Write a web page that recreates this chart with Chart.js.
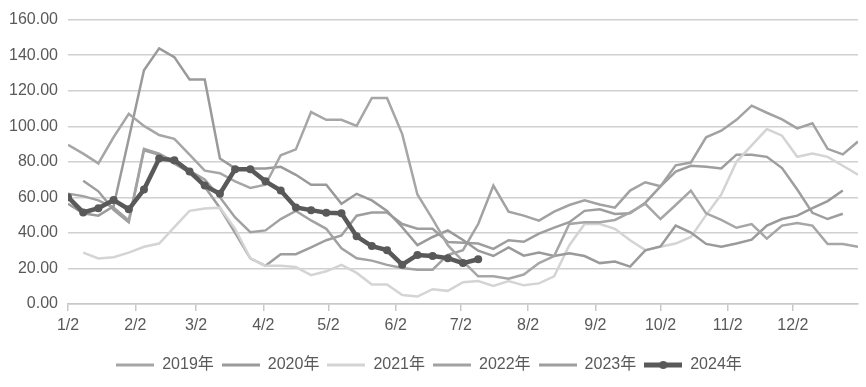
<!DOCTYPE html>
<html>
<head>
<meta charset="utf-8">
<script src="https://cdn.jsdelivr.net/npm/chart.js@4.4.1/dist/chart.umd.min.js"></script>
<style>
  html, body { margin: 0; padding: 0; background: #fff; }
  #wrap { width: 866px; height: 387px; }
</style>
</head>
<body>
<div id="wrap"><canvas id="chart"></canvas></div>
<script>
// week positions, in days from 1/2
const weeks = [0, 7, 14, 21, 28, 35, 42, 49, 56, 63, 70, 77, 84, 91, 98, 105, 112, 119, 126, 133,
  140, 147, 154, 161, 168, 175, 182, 189, 196, 203, 210, 217, 224, 231, 238, 245, 252, 259, 266,
  273, 280, 287, 294, 301, 308, 315, 322, 329, 336, 343, 350, 357, 364];

const monthDays = [0, 31, 59, 90, 120, 151, 181, 212, 243, 273, 304, 334];
const monthLabels = ['1/2', '2/2', '3/2', '4/2', '5/2', '6/2', '7/2', '8/2', '9/2', '10/2', '11/2', '12/2'];

const y2019 = [89.6, 84.6, 79.1, 93.8, 107, 100.2, 95.1, 92.9, 84, 75, 73.6, 69, 65.3, 67.1, 83.7, 87, 108,
  103.6, 103.6, 100.2, 115.9, 115.9, 95.6, 61.6, 47.8, 33.1, 24, 15.6, 15.6, 14.2, 16.6, 23, 27, 45, 46, 46,
  47.3, 51.5, 56.4, 47.8, 55.7, 63.8, 51, 47.3, 42.9, 45, 36.8, 44.1, 45.6, 44.1, 33.7, 33.7, 32.2];
const y2020 = [56.4, 51, 49.7, 55, 93, 131.5, 143.8, 138.9, 126.3, 126.3, 81.8, 76.3, 76.3, 76.3, 77.2, 72.7,
  67.1, 67.1, 56.4, 62, 58.3, 52.4, 43.2, 33.1, 37.7, 41.4, 36, 30, 27, 31.8, 27.2, 28.9, 27, 28.5, 27, 23,
  23.9, 21, 30.2, 32.4, 44.1, 40.2, 33.8, 32.2, 34, 36.2, 44.1, 47.8, 49.7, 53.9, 57.9, 63.8, null];
const y2021 = [null, 28.9, 25.6, 26.3, 28.9, 32.2, 34, 43.2, 52.4, 53.7, 54.2, 42.3, 25.7, 21.5, 21.5, 20.8,
  16.2, 18.4, 22, 17.5, 11, 11, 5, 4.2, 8.3, 7.4, 12.3, 12.9, 10.1, 12.9, 10.5, 11.6, 15.6, 33.1, 45, 45, 42.3,
  35.9, 30.3, 32.2, 34, 37.7, 50, 61.6, 80, 89.2, 98.4, 94.7, 82.8, 84.6, 82.8, 77.8, 72.7];
const y2022 = [62, 60.7, 58.3, 54.2, 47, 87.3, 84.6, 80, 75, 70, 60, 48.7, 40.4, 41.4, 47.8, 52.4, 47, 42.3,
  31.3, 25.7, 24.4, 22, 20.2, 19.3, 19.3, 27.6, 30.3, 45, 66.6, 51.9, 49.7, 46.9, 52, 55.7, 58.3, 56, 54.2,
  63.8, 68.5, 66.2, 78, 79.6, 93.8, 97.5, 103.6, 111.6, 107.6, 103.9, 98.8, 101.7, 87.3, 84.2, 91.4];
const y2023 = [null, 69.3, 63.4, 53, 46, 86.5, 84, 79, 74, 66, 54, 40, 25.7, 21.5, 28, 28, 31.8, 35.9, 38.6,
  49.7, 51.5, 51.5, 45, 42.3, 42.3, 34.9, 34.4, 34, 31, 35.9, 35, 39.6, 43, 46, 52.4, 53.3, 50.6, 51, 57,
  66.2, 74.5, 77.8, 77.2, 76.3, 84, 84, 82.8, 76.5, 64.4, 51.3, 47.8, 50.8, null];
const y2024 = [60.1, 51.5, 53.9, 58.5, 53.3, 64.4, 81.8, 80.9, 74.5, 66.6, 62, 75.8, 75.8, 69, 63.8, 54.3,
  52.8, 51.3, 51.1, 38.1, 32.6, 30.3, 22.1, 27.6, 27, 25.8, 23, 25.2];

const toPoints = (vals) => vals.map((v, i) => ({ x: weeks[i], y: v }));

const swatch = (color, width, dot) => {
  const c = document.createElement('canvas');
  c.width = 38;
  c.height = 12;
  const g = c.getContext('2d');
  g.strokeStyle = color;
  g.lineWidth = width;
  g.beginPath();
  g.moveTo(0, 6);
  g.lineTo(38, 6);
  g.stroke();
  if (dot) {
    g.fillStyle = color;
    g.beginPath();
    g.arc(19, 6, 4, 0, Math.PI * 2);
    g.fill();
  }
  return c;
};

const grayLine = (label, vals, color) => ({
  label: label,
  data: toPoints(vals),
  borderColor: color,
  backgroundColor: color,
  borderWidth: 2.5,
  pointRadius: 0,
  tension: 0,
  order: 1
});

const datasets = [
  grayLine('2019年', y2019, '#a6a6a6'),
  grayLine('2020年', y2020, '#9a9a9a'),
  grayLine('2021年', y2021, '#d4d4d4'),
  grayLine('2022年', y2022, '#a2a2a2'),
  grayLine('2023年', y2023, '#9e9e9e'),
  {
    label: '2024年',
    data: toPoints(y2024),
    borderColor: '#595959',
    backgroundColor: '#595959',
    borderWidth: 4.5,
    pointRadius: 4,
    pointBorderWidth: 0,
    tension: 0,
    order: 0
  }
];

const swatches = [
  swatch('#a6a6a6', 3, false),
  swatch('#9a9a9a', 3, false),
  swatch('#d4d4d4', 3, false),
  swatch('#a2a2a2', 3, false),
  swatch('#9e9e9e', 3, false),
  swatch('#595959', 5, true)
];

const font = { family: "'Liberation Sans', 'Noto Sans CJK SC', sans-serif", size: 16 };

new Chart(document.getElementById('chart'), {
  type: 'line',
  data: { datasets: datasets },
  options: {
    responsive: true,
    maintainAspectRatio: false,
    animation: false,
    devicePixelRatio: 1,
    layout: { padding: { left: 0, right: 8, top: 15, bottom: 4 } },
    plugins: {
      tooltip: { enabled: false },
      legend: {
        position: 'bottom',
        labels: {
          usePointStyle: true,
          pointStyleWidth: 38,
          padding: 8,
          color: '#595959',
          font: font,
          sort: (a, b) => a.datasetIndex - b.datasetIndex,
          generateLabels: (chart) => {
            const items = Chart.defaults.plugins.legend.labels.generateLabels(chart);
            items.forEach(it => { it.pointStyle = swatches[it.datasetIndex]; });
            return items;
          }
        }
      }
    },
    scales: {
      x: {
        type: 'linear',
        min: 0,
        max: 364,
        afterBuildTicks: (s) => { s.ticks = monthDays.map(v => ({ value: v })); },
        afterFit: (s) => { s.height = 45; },
        grid: { drawOnChartArea: false, drawTicks: true, tickLength: 7, color: '#c8c8c8', lineWidth: 1.5 },
        border: { color: '#c8c8c8', width: 1.5 },
        ticks: {
          autoSkip: false,
          maxRotation: 0,
          padding: 5,
          color: '#595959',
          font: font,
          callback: (v) => monthLabels[monthDays.indexOf(v)]
        }
      },
      y: {
        min: 0,
        max: 160,
        afterFit: (s) => { s.width = 68; },
        grid: { color: '#d0d0d0', lineWidth: 1.5, drawTicks: false },
        border: { display: false },
        ticks: {
          stepSize: 20,
          padding: 10,
          color: '#595959',
          font: font,
          callback: (v) => v.toFixed(2)
        }
      }
    }
  }
});
</script>
</body>
</html>
